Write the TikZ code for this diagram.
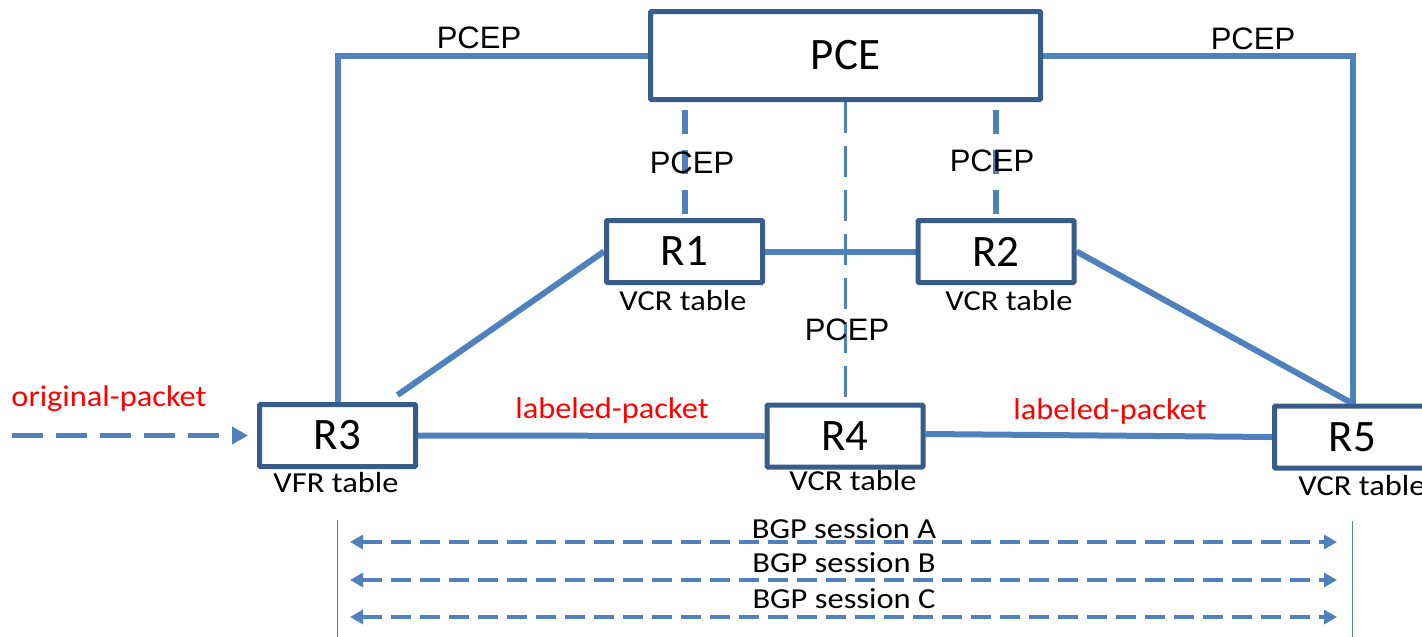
\documentclass[tikz,border=0pt]{standalone}
\usepackage{fontspec}
\setmainfont{Carlito}
\newfontfamily\arialfont{Liberation Sans}
\newfontfamily\smallfont[FakeStretch=1.12]{Carlito}
\newfontfamily\redfont[FakeStretch=1.08]{Carlito}
\usetikzlibrary{arrows.meta,calc,backgrounds}

\definecolor{linkblue}{RGB}{79,129,189}
\definecolor{boxblue}{RGB}{56,93,138}

\tikzset{
  router/.style={draw=boxblue, line width=5pt, fill=white, rounded corners=1pt,
    minimum width=156pt, minimum height=62pt, inner sep=0pt,
    font=\fontsize{45}{52}\selectfont},
  link/.style={draw=linkblue, line width=6pt},
  pcelink/.style={draw=linkblue, line width=6pt, dash pattern=on 24pt off 16pt},
  centerlink/.style={draw=linkblue, line width=3.5pt, dash pattern=on 31pt off 13pt},
  flow/.style={draw=linkblue, line width=5pt, dash pattern=on 31pt off 13pt,
    -{Triangle[length=16pt,width=17pt]}},
  session/.style={draw=linkblue, line width=3.5pt, dash pattern=on 20pt off 9pt,
    {Triangle[length=13pt,width=14pt]}-{Triangle[length=13pt,width=14pt]}},
  sessionline/.style={draw=linkblue, line width=1.8pt},
  pceplabel/.style={anchor=base, inner sep=0pt, font=\arialfont\fontsize{31}{36}\selectfont},
  tablelabel/.style={anchor=base, inner sep=0pt, font=\smallfont\fontsize{29}{34}\selectfont},
  packetlabel/.style={anchor=base, inner sep=0pt, text=red, font=\redfont\fontsize{30}{36}\selectfont}
}

\begin{document}
\begin{tikzpicture}[x=1pt,y=-1pt]
\useasboundingbox (0,0) rectangle (1422,637);

% controller and routers
\node[router, minimum width=390pt, minimum height=88pt] (pce) at (845.5,55.5) {PCE};
\node[router] (r1) at (684.5,251.5) {R1};
\node[router] (r2) at (996,251.5) {R2};
\node[router] (r3) at (337.5,435.5) {R3};
\node[router] (r4) at (845,436) {R4};
\node[router] (r5) at (1352.5,437) {R5};

% links behind the boxes
\begin{scope}[on background layer]
  \draw[link] (pce.west) -| (r3.north);
  \draw[link] (pce.east) -| (r5.north);
  \draw[link] (r1.east) -- (r2.west);
  \draw[link] ([xshift=60pt,yshift=7pt]r3.north) -- (r1.west);
  \draw[link] (r2.east) -- (r5.north);
  \draw[link] (r3.east) -- (r4.west);
  \draw[link] ([yshift=2pt]r4.east) -- (r5.west);

  % PCEP sessions
  \draw[pcelink] ($(pce.south -| r1.north)+(0,8)$) -- (r1.north);
  \draw[pcelink] ($(pce.south -| r2.north)+(0,8)$) -- (r2.north);
  \draw[centerlink] (pce.south) -- (pce.south |- r4.north);
\end{scope}

% PCEP labels
\node[pceplabel] (pcepl) at (479,48) {PCEP};
\node[pceplabel] (pcepr) at (1253,49) {PCEP};
\node[pceplabel] (pcep1) at (692,173) {PCEP};
\node[pceplabel] (pcep2) at (992,171) {PCEP};
\node[pceplabel] (pcep4) at (847,340) {PCEP};

% tables under the routers
\node[tablelabel] (r1tab) at (683,310) {VCR table};
\node[tablelabel] (r2tab) at (1009,310) {VCR table};
\node[tablelabel] (r3tab) at (336,492) {VFR table};
\node[tablelabel] (r4tab) at (853,490) {VCR table};
\node[tablelabel] (r5tab) at (1362,495) {VCR table};

% incoming packet
\coordinate (src) at (12,435.5);
\draw[flow] (src) -- ([xshift=-9pt]r3.west);
\node[packetlabel] (orig) at (109,406) {original-packet};
\node[packetlabel] (lab34) at (612,418) {labeled-packet};
\node[packetlabel] (lab45) at (1110,419) {labeled-packet};

% BGP sessions between R3 and R5
\draw[sessionline] ([yshift=-51pt]r3.south) -- ++(0,130);
\draw[sessionline] ([yshift=-50pt]r5.south) -- ++(0,130);
\coordinate (bgpAl) at (350,542);  \coordinate (bgpAr) at (1337,542);
\coordinate (bgpBl) at (350,580);  \coordinate (bgpBr) at (1337,580);
\coordinate (bgpCl) at (350,617);  \coordinate (bgpCr) at (1337,617);
\draw[session] (bgpAl) -- (bgpAr);
\draw[session] (bgpBl) -- (bgpBr);
\draw[session] (bgpCl) -- (bgpCr);
\node[tablelabel] (bgpA) at (844,538) {BGP session A};
\node[tablelabel] (bgpB) at (844,572) {BGP session B};
\node[tablelabel] (bgpC) at (844,608) {BGP session C};

\end{tikzpicture}
\end{document}
